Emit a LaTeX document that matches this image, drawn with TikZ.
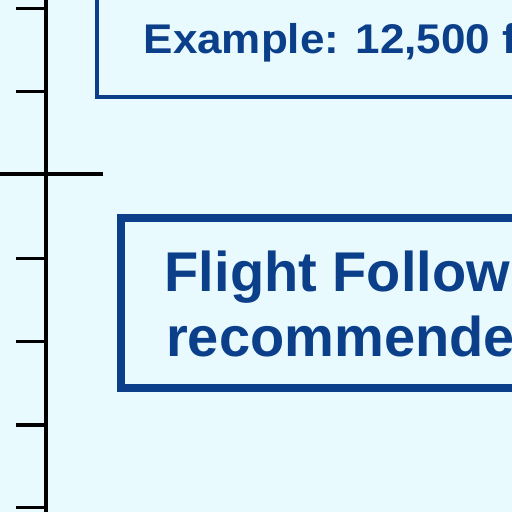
\documentclass[tikz,border=0pt]{standalone}
\usepackage{fontspec}
\setmainfont{Liberation Sans}
\definecolor{bg}{HTML}{E8FAFD}
\definecolor{navy}{HTML}{0C3F8A}
\begin{document}
\begin{tikzpicture}[x=1pt,y=1pt,
  axisline/.style={line width=3.5pt, black},
  tickmark/.style={line width=3.2pt, black},
  bluebox/.style={draw=navy, rectangle, inner sep=0pt, outer sep=0pt, anchor=south west},
  boxtext/.style={text=navy, anchor=base west, inner sep=0pt}]
\useasboundingbox (0,-512) rectangle (512,0);
\clip (0,-512) rectangle (512,0);
\fill[bg] (0,-512) rectangle (512,0);
% axis
\coordinate (axtop) at (46,2);
\coordinate (axbot) at (46,-514);
\draw[axisline] (axtop) -- (axbot);
\foreach \i/\y in {1/8.3,2/91.7,4/258.3,5/341.5,6/425,7/507.5}{
  \coordinate (tk\i) at (47,-\y);
  \draw[tickmark] (tk\i) -- ++(-31,0);
}
\coordinate (tk3) at (103,-174);
\draw[tickmark] (tk3) -- ++(-104,0);
% top box
\node[bluebox, line width=4pt, minimum width=500pt, minimum height=150pt] (topbox) at (97,-97) {};
\node[boxtext, font=\bfseries\fontsize{41.5}{48}\selectfont] (toptext) at (143.5,-53.3) {\scalebox{1.06}[1]{Example: 12,500 f}};
% lower box
\node[bluebox, line width=8pt, minimum width=500pt, minimum height=169.5pt] (lowbox) at (120.5,-387.5) {};
\node[boxtext, font=\bfseries\fontsize{56}{65}\selectfont] (lowtexta) at (164.5,-291.7) {Flight Follow};
\node[boxtext, font=\bfseries\fontsize{56}{65}\selectfont] (lowtextb) at (166,-356.7) {recommende};
\end{tikzpicture}
\end{document}
